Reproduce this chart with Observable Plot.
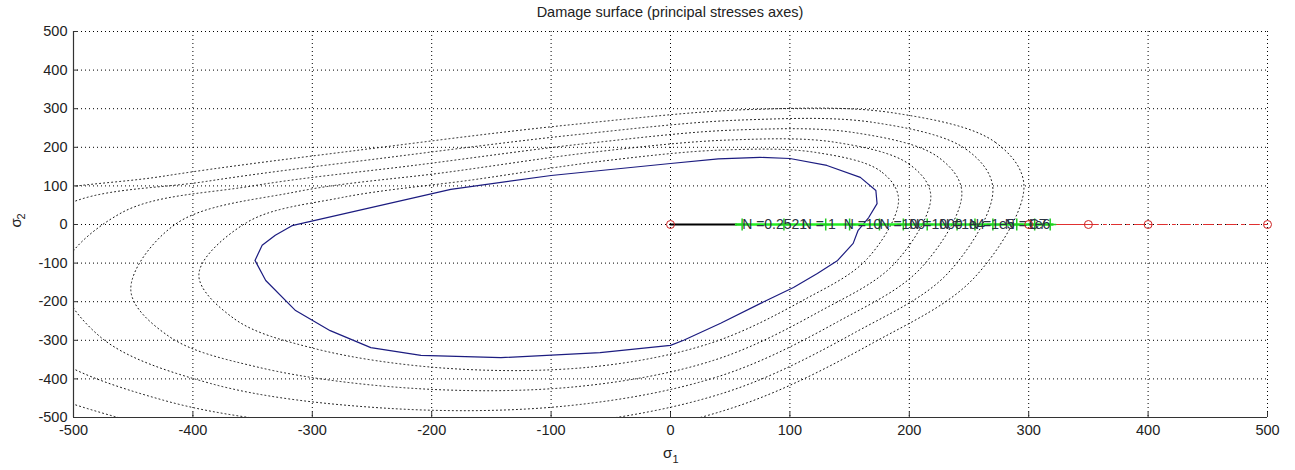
<!DOCTYPE html>
<html>
<head>
<meta charset="utf-8">
<script src="https://cdn.jsdelivr.net/npm/d3@7"></script>
<script src="https://cdn.jsdelivr.net/npm/@observablehq/plot@0.6"></script>
<style>
  html, body { margin: 0; padding: 0; background: #fff; }
  #title { width: 1295px; box-sizing: border-box; padding: 4px 28px 0 73px; height: 24px;
           text-align: center; font: 14.5px "Liberation Sans", Arial, sans-serif; color: #222; }
  svg { display: block; }
</style>
</head>
<body>
<div id="title">Damage surface (principal stresses axes)</div>
<div id="chart"></div>
<script>
// ---- data ----
const ticks = [-500, -400, -300, -200, -100, 0, 100, 200, 300, 400, 500];

// damage surface (solid blue)
const surfX = [-317, -184, -100, 0, 40, 75, 100, 131, 159, 172, 173, 166, 157, 153, 140, 123, 103, 75, 42, 11, 0, -59, -142, -209, -251, -285, -314, -339, -348, -342, -331, -317];
const surfY = [-3, 91, 127, 158, 170, 174, 171, 153, 122, 88, 54, 18, -16, -49, -93, -127, -163, -205, -256, -300, -313, -332, -345, -339, -319, -275, -223, -145, -93, -54, -28, -3];

// dotted contours (closed)
const c1X = [191, 176, 121, 44, -55, -165, -275, -355, -395, -365, -300, -190, -66, 33, 110, 165];
const c1Y = [66, 138, 187, 193, 165, 116, 70, 5, -130, -245, -320, -372, -369, -308, -198, -88];
const c2X = [218, 200, 138, 50, -63, -188, -313, -415, -452, -420, -345, -213, -75, 38, 125, 188];
const c2Y = [75, 156, 213, 219, 188, 135, 85, 0, -170, -290, -370, -425, -419, -350, -225, -100];
const c3X = [244, 224, 154, 56, -70, -210, -350, -460, -510, -478, -385, -238, -84, 42, 140, 210];
const c3Y = [84, 175, 238, 245, 210, 155, 100, 30, -130, -290, -412, -476, -469, -392, -252, -112];
const c4X = [270, 248, 171, 62, -78, -233, -388, -510, -565, -530, -425, -264, -93, 47, 155, 233];
const c4Y = [93, 194, 264, 271, 233, 175, 112, 45, -130, -315, -455, -527, -519, -434, -279, -124];
const c5X = [296, 272, 187, 68, -85, -255, -425, -560, -620, -580, -465, -289, -102, 51, 170, 255];
const c5Y = [102, 213, 289, 298, 258, 195, 125, 50, -140, -345, -498, -578, -570, -476, -306, -136];

// load path
const blackX = [0, 55];
const greenX = [55, 320];
const greenMarkX = [60, 95, 130, 150, 175, 195, 215, 240, 255, 270, 290, 305, 318];
const redSolidX = [0, 350];
const redDashX = [350, 500];
const redCircleX = [0, 300, 350, 400, 500];
const labelX = [60, 110, 145, 175, 200, 225, 250, 280, 300];
const labelText = ["N =0.2521", "N = 1", "N =10", "N =100", "N =1000", "N =1e4", "N =1e5", "N =1e6", "C7"];

// ---- build tables ----
const pts = (xs, ys) => xs.map((x, i) => ({x, y: ys[i]}));
const contours = [[c1X, c1Y], [c2X, c2Y], [c3X, c3Y], [c4X, c4Y], [c5X, c5Y]].map(([a, b]) => pts(a, b));
const zeroRow = xs => xs.map(x => ({x, y: 0}));
const fmt = d => String(d);

const dotted = {stroke: "#111", strokeWidth: 1, strokeDasharray: "1,3"};

const chart = Plot.plot({
  width: 1295,
  height: 446,
  marginTop: 7,
  marginBottom: 53,
  marginLeft: 73,
  marginRight: 28,
  style: {fontFamily: "'Liberation Sans', Arial, sans-serif", fontSize: "14.5px", color: "#222", background: "#fff"},
  x: {domain: [-500, 500], ticks: ticks, label: null},
  y: {domain: [-500, 500], ticks: ticks, label: null},
  marks: [
    Plot.gridX(ticks, {stroke: "#000", strokeOpacity: 1, strokeDasharray: "1,3"}),
    Plot.gridY(ticks, {stroke: "#000", strokeOpacity: 1, strokeDasharray: "1,3"}),
    ...contours.map(c => Plot.line(c, {x: "x", y: "y", curve: "catmull-rom-closed", clip: true, ...dotted})),
    Plot.line(pts(surfX, surfY), {x: "x", y: "y", stroke: "#1c1c80", strokeWidth: 1.2}),
    Plot.line(zeroRow(redSolidX), {x: "x", y: "y", stroke: "#e03030", strokeWidth: 1}),
    Plot.line(zeroRow(redDashX), {x: "x", y: "y", stroke: "#e03030", strokeWidth: 1, strokeDasharray: "10,5,3,5"}),
    Plot.line(zeroRow(blackX), {x: "x", y: "y", stroke: "#000", strokeWidth: 2}),
    Plot.line(zeroRow(greenX), {x: "x", y: "y", stroke: "#22ee22", strokeWidth: 2.5}),
    Plot.dot(zeroRow(greenMarkX), {x: "x", y: "y", symbol: "plus", r: 4, stroke: "#22cc22", strokeWidth: 1.5}),
    Plot.text(zeroRow(labelX), {x: "x", y: "y", text: (d, i) => labelText[i], textAnchor: "start", fill: "#2a3040", fontSize: 14}),
    Plot.dot(zeroRow(redCircleX), {x: "x", y: "y", r: 4, stroke: "#cc2222", strokeWidth: 1, fill: "none"}),
    Plot.ruleX([-500], {stroke: "#333", strokeWidth: 1.2}),
    Plot.ruleY([-500], {stroke: "#333", strokeWidth: 1.2}),
    Plot.axisY(ticks, {anchor: "left", tickSize: 0, tickPadding: 6, tickFormat: fmt, stroke: "#333"}),
    Plot.axisY(ticks, {anchor: "left", tickSize: 5, dx: 5, text: null, stroke: "#333"}),
    Plot.axisX(ticks, {anchor: "bottom", tickSize: 0, tickPadding: 7, tickFormat: fmt, stroke: "#333"}),
    Plot.axisX(ticks, {anchor: "bottom", tickSize: 5, dy: -5, text: null, stroke: "#333"}),
    // axis titles: sigma with subscript
    Plot.text(["σ"], {frameAnchor: "bottom", dy: 40, dx: -3, text: d => d, fontSize: 15, fill: "#222"}),
    Plot.text(["1"], {frameAnchor: "bottom", dy: 45, dx: 5, text: d => d, fontSize: 11, fill: "#222"}),
    Plot.text(["σ"], {frameAnchor: "left", dx: -57, dy: 3, rotate: -90, text: d => d, fontSize: 15, fill: "#222"}),
    Plot.text(["2"], {frameAnchor: "left", dx: -52, dy: -5, rotate: -90, text: d => d, fontSize: 11, fill: "#222"})
  ]
});
document.getElementById("chart").appendChild(chart);
</script>
</body>
</html>
